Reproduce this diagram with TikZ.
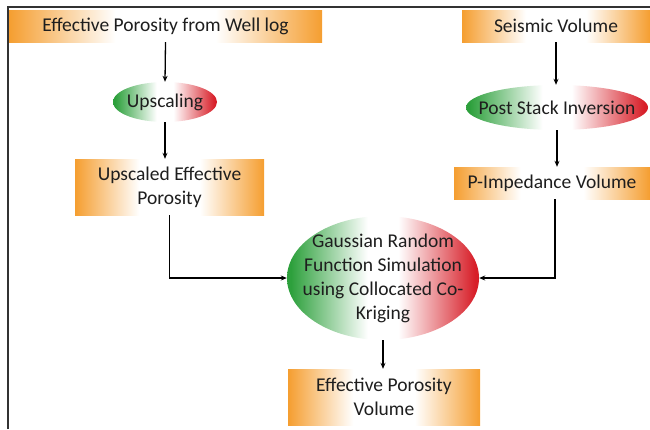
\documentclass[tikz,border=0pt]{standalone}
\usepackage{fontspec}
\setmainfont{Carlito}
\usetikzlibrary{shapes.geometric,arrows.meta}
\definecolor{ora}{RGB}{245,158,48}
\definecolor{grn}{RGB}{45,160,60}
\definecolor{rd}{RGB}{215,30,40}
\definecolor{txt}{RGB}{30,30,30}
\pgfdeclarehorizontalshading{boxshade}{100bp}{color(0bp)=(ora); color(25bp)=(ora); color(42bp)=(white); color(58bp)=(white); color(75bp)=(ora); color(100bp)=(ora)}
\pgfdeclarehorizontalshading{ellshade}{100bp}{color(0bp)=(grn); color(26bp)=(grn); color(46bp)=(white); color(54bp)=(white); color(74bp)=(rd); color(100bp)=(rd)}
\tikzset{
  every node/.style={font=\fontsize{19.5}{24}\selectfont, text=txt, align=center, inner sep=0pt},
  boxnode/.style={rectangle, shading=boxshade},
  ellnode/.style={ellipse, shading=ellshade},
  conn/.style={line width=1.3pt, draw=black, -{Stealth[length=6pt,width=5pt]}},
  frame/.style={line width=2pt, draw=black!80}
}
\begin{document}
\begin{tikzpicture}[x=1pt,y=-1pt]
\useasboundingbox (0,0) rectangle (650,429);
\coordinate (fa) at (8,429);
\coordinate (fb) at (8,7);
\coordinate (fc) at (650,7);
\draw[frame] (fa) -- (fb) -- (fc);
\node[boxnode, minimum width=313pt, minimum height=32pt] (wl) at (165.5,26) {Effective Porosity from Well log};
\node[boxnode, minimum width=188pt, minimum height=32pt] (sv) at (556,26) {Seismic Volume};
\node[ellnode, minimum width=104pt, minimum height=40pt] (up) at (165,102) {};
\node (upt) at (up.center) {Upscaling};
\node[ellnode, minimum width=182pt, minimum height=45pt] (ps) at (557,107.5) {};
\node (pst) at (ps.center) {Post Stack Inversion};
\node[boxnode, minimum width=189pt, minimum height=56pt] (ue) at (169.5,187) {Upscaled Effective\\Porosity};
\node[boxnode, minimum width=196pt, minimum height=32pt] (pi) at (552,183) {P-Impedance Volume};
\node[ellnode, minimum width=192pt, minimum height=124pt] (gr) at (383,278) {};
\node (grt) at (gr.center) {Gaussian Random\\Function Simulation\\using Collocated Co-\\Kriging};
\node[boxnode, minimum width=192pt, minimum height=56pt] (ep) at (384,397) {Effective Porosity\\Volume};
\draw[conn] (wl.south) -- (up.north);
\draw[conn] (up.south) -- (up.south |- ue.north);
\draw[conn] (sv.south) -- (sv.south |- ps.north);
\draw[conn] (ps.south) -- (ps.south |- pi.north);
\draw[conn] (ue.south) |- (gr.west);
\draw[conn] ([xshift=3pt]pi.south) |- (gr.east);
\draw[conn] (gr.south) -- (gr.south |- ep.north);
\end{tikzpicture}
\end{document}
